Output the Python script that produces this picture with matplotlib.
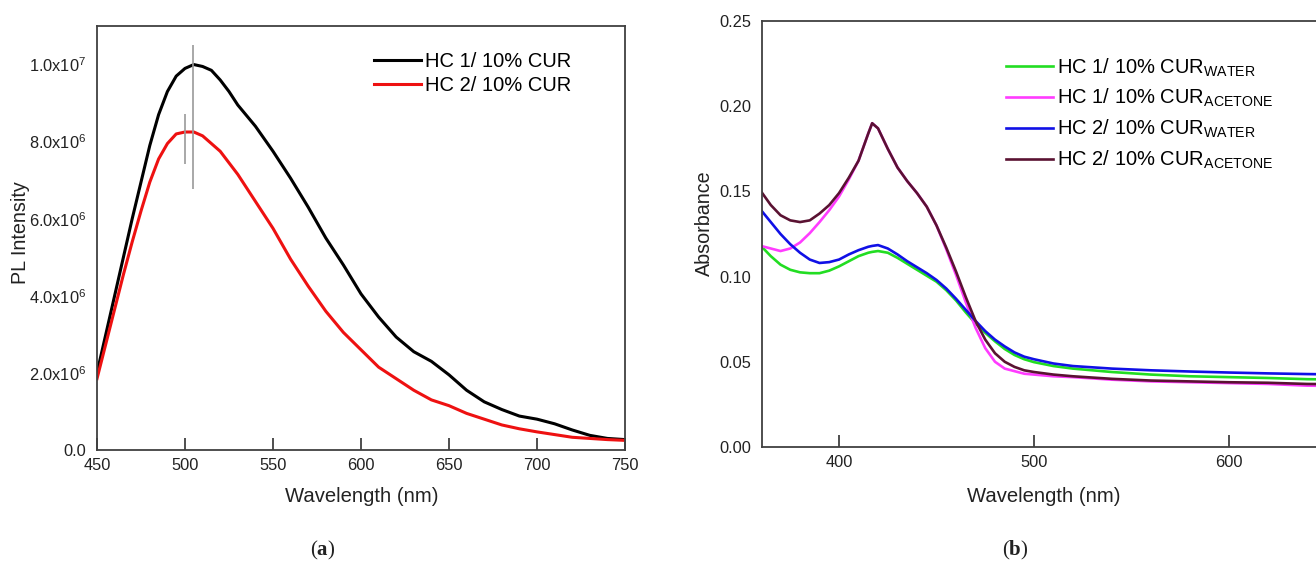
import matplotlib
matplotlib.use("Agg")
import matplotlib.pyplot as plt
from matplotlib.ticker import FixedLocator, FixedFormatter
from matplotlib.offsetbox import TextArea, HPacker, AnnotationBbox

plt.rcParams['font.family'] = ['Liberation Sans', 'DejaVu Sans']
plt.rcParams['mathtext.fontset'] = 'custom'
plt.rcParams['mathtext.rm'] = 'Liberation Sans'
plt.rcParams['mathtext.it'] = 'Liberation Sans:italic'
plt.rcParams['mathtext.bf'] = 'Liberation Sans:bold'

# (a) photoluminescence spectra, intensity in units of 1e6
wl_pl = [450, 455, 460, 465, 470, 475, 480, 485, 490, 495, 500, 505, 510, 515,
         520, 525, 530, 540, 550, 560, 570, 580, 590, 600, 610, 620, 630, 640,
         650, 660, 670, 680, 690, 700, 710, 720, 730, 740, 750]
pl_hc1 = [2.0, 3.0, 4.0, 5.0, 6.0, 6.95, 7.9, 8.7, 9.3, 9.7, 9.9, 10.0, 9.95,
          9.85, 9.6, 9.3, 8.95, 8.4, 7.75, 7.05, 6.3, 5.5, 4.8, 4.05, 3.45, 2.93,
          2.55, 2.3, 1.95, 1.55, 1.25, 1.05, 0.88, 0.8, 0.68, 0.52, 0.38, 0.3, 0.27]
pl_hc2 = [1.85, 2.75, 3.65, 4.55, 5.4, 6.2, 6.95, 7.55, 7.95, 8.2, 8.25, 8.25, 8.15,
          7.95, 7.75, 7.45, 7.15, 6.45, 5.75, 4.95, 4.25, 3.6, 3.05, 2.6, 2.15,
          1.85, 1.55, 1.3, 1.15, 0.95, 0.8, 0.65, 0.55, 0.47, 0.4, 0.33, 0.3,
          0.27, 0.25]
pl_labels = ['HC 1/ 10% CUR', 'HC 2/ 10% CUR']
# peak markers: (wavelength, low, high) in units of 1e6
peak_marks = [(504.5, 6.77, 10.5), (500.0, 7.42, 8.71)]

# (b) absorbance spectra
wl_abs = [360, 365, 370, 375, 380, 385, 390, 395, 400, 405, 410, 415, 417, 420,
          425, 430, 435, 440, 445, 450, 455, 460, 465, 470, 475, 480, 485, 490,
          495, 500, 510, 520, 540, 560, 580, 600, 620, 640, 660, 680, 700]
abs_hc1_water = [0.118, 0.112, 0.107, 0.104, 0.1025, 0.102, 0.102, 0.1035, 0.106,
                 0.109, 0.112, 0.114, 0.1145, 0.115, 0.114, 0.111, 0.1075, 0.104,
                 0.1005, 0.097, 0.092, 0.086, 0.079, 0.0725, 0.067, 0.062, 0.0575,
                 0.054, 0.0515, 0.0498, 0.0475, 0.046, 0.044, 0.0425, 0.0415,
                 0.041, 0.0405, 0.0398, 0.0395, 0.039, 0.039]
abs_hc1_acetone = [0.118, 0.1165, 0.115, 0.1165, 0.120, 0.1255, 0.132, 0.139,
                   0.147, 0.157, 0.168, 0.184, 0.190, 0.187, 0.175, 0.164, 0.156,
                   0.149, 0.141, 0.130, 0.116, 0.101, 0.085, 0.070, 0.058, 0.050,
                   0.046, 0.0445, 0.043, 0.0425, 0.0415, 0.041, 0.0395, 0.0385,
                   0.038, 0.0375, 0.037, 0.036, 0.0358, 0.0355, 0.0355]
abs_hc2_water = [0.139, 0.132, 0.125, 0.119, 0.114, 0.110, 0.108, 0.1085, 0.110,
                 0.113, 0.1155, 0.1175, 0.118, 0.1185, 0.1165, 0.113, 0.109,
                 0.1055, 0.102, 0.098, 0.093, 0.087, 0.0805, 0.074, 0.068, 0.063,
                 0.059, 0.0555, 0.053, 0.0515, 0.049, 0.0475, 0.046, 0.045,
                 0.0443, 0.0437, 0.0432, 0.0428, 0.0425, 0.0423, 0.042]
abs_hc2_acetone = [0.150, 0.142, 0.136, 0.133, 0.132, 0.133, 0.137, 0.142, 0.149,
                   0.158, 0.168, 0.184, 0.190, 0.187, 0.175, 0.164, 0.156, 0.149,
                   0.141, 0.130, 0.117, 0.103, 0.088, 0.074, 0.063, 0.055, 0.050,
                   0.047, 0.045, 0.044, 0.0425, 0.0415, 0.040, 0.039, 0.0385,
                   0.038, 0.0377, 0.037, 0.0368, 0.0365, 0.0365]
abs_series = [abs_hc1_water, abs_hc1_acetone, abs_hc2_water, abs_hc2_acetone]
abs_labels = [r'HC 1/ 10% CUR$_{\mathrm{WATER}}$',
              r'HC 1/ 10% CUR$_{\mathrm{ACETONE}}$',
              r'HC 2/ 10% CUR$_{\mathrm{WATER}}$',
              r'HC 2/ 10% CUR$_{\mathrm{ACETONE}}$']
abs_colors = ['#22dd22', '#ff3cff', '#1010e6', '#5a1232']

pl_yticks = [0, 2e6, 4e6, 6e6, 8e6, 1e7]
pl_yticklabels = ['0.0', r'2.0x10$^{6}$', r'4.0x10$^{6}$', r'6.0x10$^{6}$',
                  r'8.0x10$^{6}$', r'1.0x10$^{7}$']

W, H = 1316, 562
fig = plt.figure(figsize=(W / 100, H / 100), dpi=100)

spine_col = '#404040'
text_col = '#222222'


def style_axes(ax):
    for s in ax.spines.values():
        s.set_color(spine_col)
        s.set_linewidth(1.3)
    ax.tick_params(axis='x', direction='in', length=9, width=1.3,
                   color=spine_col, labelsize=11.8, labelcolor=text_col, pad=6)
    ax.tick_params(axis='y', length=0, labelsize=11.8, labelcolor=text_col,
                   pad=8)


def px_text(x, y, s, **kw):
    fig.text(x / W, 1 - y / H, s, ha='center', va='center', color=text_col, **kw)


def panel_tag(x, y, letter):
    parts = [TextArea('(', textprops=dict(family='Liberation Serif', size=15,
                                          color=text_col)),
             TextArea(letter, textprops=dict(family='Liberation Serif', size=15,
                                             weight='bold', color=text_col)),
             TextArea(')', textprops=dict(family='Liberation Serif', size=15,
                                          color=text_col))]
    box = HPacker(children=parts, pad=0, sep=0)
    ab = AnnotationBbox(box, (x / W, 1 - y / H), xycoords='figure fraction',
                        frameon=False, box_alignment=(0.5, 0.5))
    fig.add_artist(ab)


# ---- (a) PL intensity ----
ax1 = fig.add_axes([97 / W, 1 - 450 / H, 528 / W, 424 / H])
ax1.plot(wl_pl, [v * 1e6 for v in pl_hc1], color='black', lw=2.2, label=pl_labels[0])
ax1.plot(wl_pl, [v * 1e6 for v in pl_hc2], color='#ee1111', lw=2.2, label=pl_labels[1])
for x, lo, hi in peak_marks:
    ax1.vlines(x, lo * 1e6, hi * 1e6, color='#9a9a9a', lw=1.2, zorder=3)
ax1.set_xlim(450, 750)
ax1.set_ylim(0, 1.1e7)
ax1.set_xticks(range(450, 751, 50))
ax1.yaxis.set_major_locator(FixedLocator(pl_yticks))
ax1.yaxis.set_major_formatter(FixedFormatter(pl_yticklabels))
style_axes(ax1)
ax1.legend(loc='upper left', bbox_to_anchor=(0.5246, 0.938), frameon=False,
           fontsize=14.5, handlelength=2.35, handletextpad=0.2,
           labelspacing=0.25, borderpad=0, borderaxespad=0)

# ---- (b) absorbance ----
ax2 = fig.add_axes([762 / W, 1 - 447 / H, 662 / W, 426 / H])
for ys, lab, col in zip(abs_series, abs_labels, abs_colors):
    ax2.plot(wl_abs, ys, color=col, lw=1.9, label=lab)
ax2.set_xlim(360.5, 700)
ax2.set_ylim(0, 0.25)
ax2.set_xticks([400, 500, 600])
ax2.set_yticks([0, 0.05, 0.10, 0.15, 0.20, 0.25])
ax2.set_yticklabels(['0.00', '0.05', '0.10', '0.15', '0.20', '0.25'])
style_axes(ax2)
ax2.legend(loc='upper left', bbox_to_anchor=(0.368, 0.917), frameon=False,
           fontsize=14.5, handlelength=2.35, handletextpad=0.2,
           labelspacing=0.42, borderpad=0, borderaxespad=0)

# axis titles and panel tags
px_text(362, 496, 'Wavelength (nm)', fontsize=14.6)
px_text(1044, 496, 'Wavelength (nm)', fontsize=14.6)
px_text(21, 233, 'PL Intensity', fontsize=14.2, rotation=90)
px_text(704, 223, 'Absorbance', fontsize=14.2, rotation=90)
panel_tag(322, 550, 'a')
panel_tag(1015, 550, 'b')

fig.savefig('out.png', dpi=100)
